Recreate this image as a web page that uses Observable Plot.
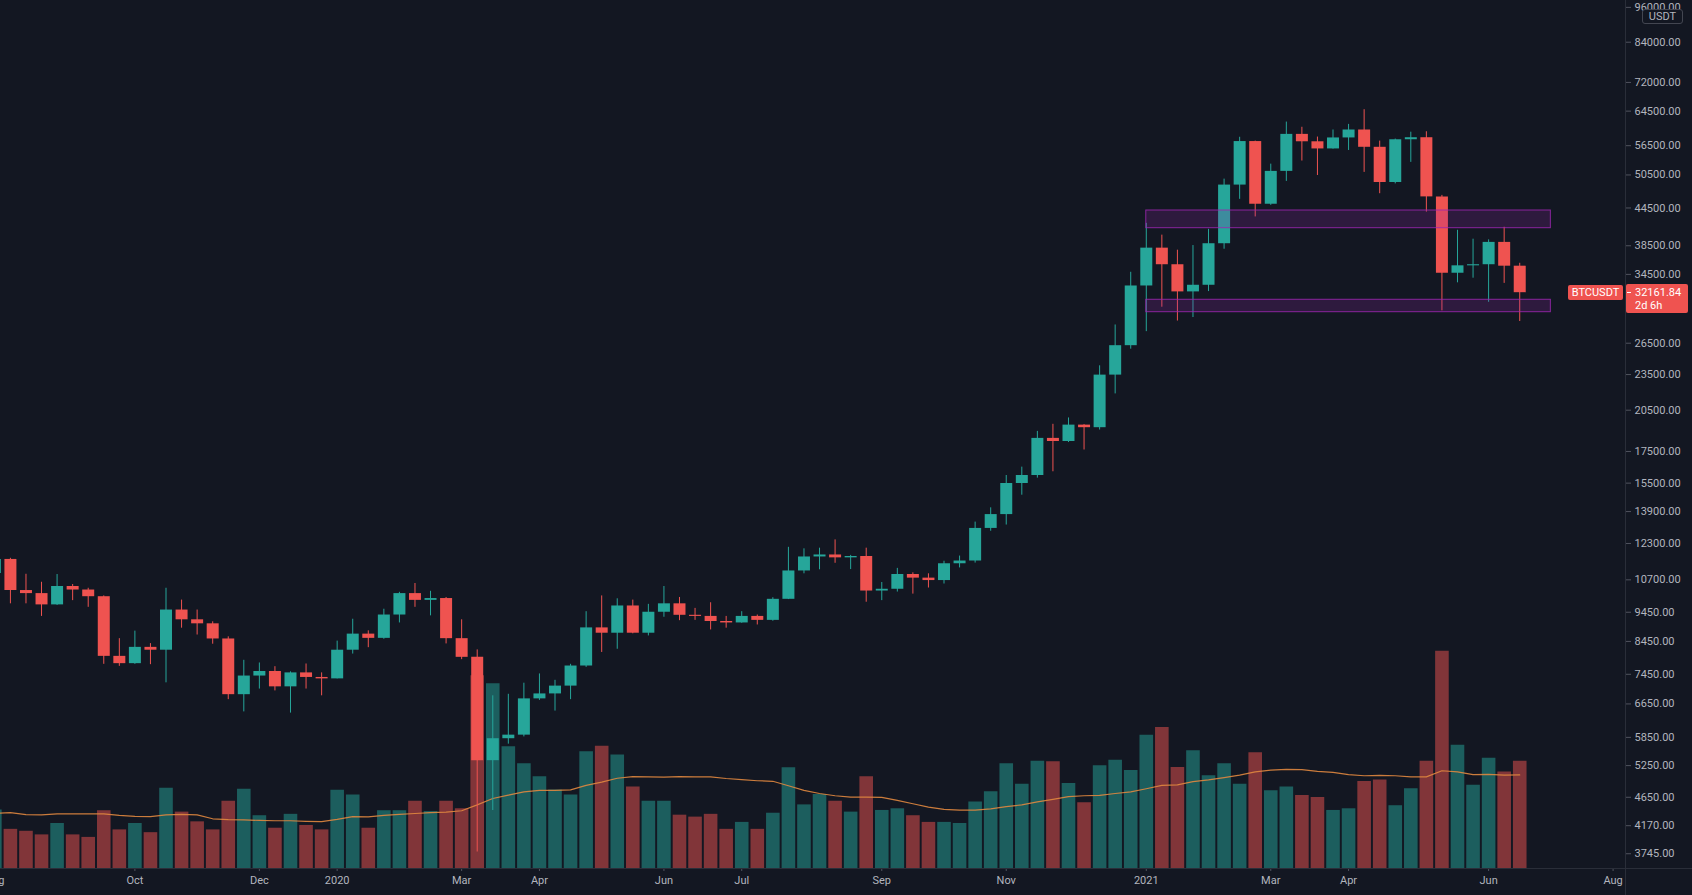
<!DOCTYPE html>
<html>
<head>
<meta charset="utf-8">
<script src="https://cdn.jsdelivr.net/npm/d3@7"></script>
<script src="https://cdn.jsdelivr.net/npm/@observablehq/plot@0.6"></script>
<style>
  html, body { margin: 0; padding: 0; background: #131722; overflow: hidden; }
  #chart { position: relative; width: 1692px; height: 895px; background: #131722; }
  #chart svg { position: absolute; left: 0; top: 0; }
  .ov { position: absolute; box-sizing: border-box; font-family: Roboto, "Noto Sans", sans-serif; font-size: 11px; }
</style>
</head>
<body>
<div id="chart"></div>
<script>
// ---------- DATA (weekly BTCUSDT, Aug 5 2019 .. Jun 21 2021) ----------
const firstWeek = new Date(Date.UTC(2019, 7, 5));
const lastWeekEnd = new Date(Date.UTC(2021, 5, 22));

const open = [10960,11570,10270,10150,9720,10430,10290,10030,7980,
 7760,8260,8170,9530,9180,9040,8530,6890,7400,7530,
 7100,7490,7360,7320,8170,8690,8550,9350,10150,9890,
 9960,8540,7950,5350,5820,5900,6780,6910,7120,7690,
 8900,8720,9680,8720,9450,9760,9340,9300,9120,9070,
 9300,9160,9930,11070,11680,11770,11640,11700,10250,10320,
 10920,10770,10670,11380,11500,13030,13740,15480,15960,18400,
 18180,19360,19170,23450,26250,33000,38150,35800,32260,33090,
 38800,48580,57400,45140,51200,59000,57350,55800,58200,60000,
 56150,49060,57800,58250,46430,34650,35650,35800,39000,35600];

const high = [12320,11620,10930,10600,10920,10510,10360,10060,8540,
 8790,8380,10360,9900,9530,9110,8600,7860,7780,7670,
 7520,7750,7490,8460,9200,8800,9560,10200,10550,10240,
 10000,9180,8180,6860,6900,7200,7460,7280,7740,9470,
 10060,9950,9900,9740,10430,10000,9590,9800,9300,9470,
 9350,9990,12120,12050,12080,12470,11750,12080,10590,11180,
 10990,10950,11490,11720,13350,14100,15960,16480,18900,19420,
 19900,19400,24300,28420,34780,41950,40100,37850,38530,41000,
 49700,58350,57500,52640,61850,60630,58400,60000,61300,64850,
 57500,57950,59500,59600,46700,40850,39480,39380,41330,36000];

const low = [10950,9760,9760,9300,9700,9880,9630,7740,7680,
 7740,7730,7210,8890,8660,8360,6760,6450,7040,6990,
 6420,7040,6860,7320,8050,8250,8520,9070,9630,9320,
 8370,7880,3770,4420,5700,5860,6740,6470,6760,7650,
 8100,8200,8700,8630,9270,9150,9160,8830,8890,9060,
 9000,9130,9920,10950,11120,11400,11130,9820,9880,10210,
 10130,10370,10530,11200,11410,12890,13200,14800,15800,16190,
 18110,17600,19000,21820,25900,27700,30420,28850,29240,32300,
 37990,46000,43000,44950,49270,53270,50400,55750,55470,51000,
 47000,48800,53000,43800,30000,33400,34000,31000,33330,28800];

const close = [11570,10270,10150,9720,10430,10290,10030,7980,7760,
 8260,8170,9530,9180,9040,8530,6890,7400,7530,7100,
 7490,7360,7320,8170,8690,8550,9350,10150,9890,9960,
 8540,7950,5350,5820,5900,6780,6910,7120,7690,8900,
 8720,9680,8720,9450,9760,9340,9300,9120,9070,9300,
 9160,9930,11070,11680,11770,11640,11700,10250,10320,10920,
 10770,10670,11380,11500,13030,13740,15480,15960,18400,18180,
 19360,19170,23450,26250,33000,38150,35800,32260,33090,38800,
 48580,57400,45140,51200,59000,57350,55800,58200,60000,56150,
 49060,57800,58250,46430,34650,35650,35800,39000,35600,32161.84];

// weekly volume, thousand BTC
const volume = [211,141,134,121,162,121,112,208,139,
 162,129,289,203,168,139,242,285,190,145,
 195,155,139,282,265,145,208,208,242,205,
 242,215,694,665,438,377,330,283,265,420,
 440,409,293,242,242,192,185,195,141,166,
 141,199,363,229,266,242,203,330,209,215,
 190,166,166,162,239,276,377,303,386,384,
 306,237,370,390,353,480,508,364,424,334,
 377,303,417,280,293,263,256,209,215,313,
 319,226,287,386,782,444,300,397,347,386];

// volume moving average as drawn (thousand BTC)
const volumeMA = [199,201,194,193,197,197,197,197,191,
 188,187,193,195,193,179,176,175,173,172,
 172,170,169,177,187,186,191,195,198,201,
 203,208,229,252,264,276,281,281,283,299,
 311,325,331,330,329,331,330,330,324,320,
 316,314,298,281,270,262,257,257,256,245,
 233,221,213,210,210,215,223,229,240,249,
 259,262,263,270,276,287,299,301,313,319,
 327,336,348,354,357,356,350,346,338,334,
 335,334,330,330,352,348,338,339,336,337];

// support / resistance zones
const zoneStart = ["2021-01-04", "2021-01-04"];
const zoneEnd   = ["2021-07-05", "2021-07-05"];
const zoneLow   = [41180, 29845];
const zoneHigh  = [44070, 31300];

// axis ticks
const priceTicks = [96000,84000,72000,64500,56500,50500,44500,38500,34500,26500,23500,20500,
  17500,15500,13900,12300,10700,9450,8450,7450,6650,5850,5250,4650,4170,3745];
const timeTickDates = ["2019-08-05","2019-10-07","2019-12-02","2020-01-06","2020-03-02","2020-04-06",
  "2020-06-01","2020-07-06","2020-09-07","2020-11-02","2021-01-04","2021-03-01","2021-04-05",
  "2021-06-07","2021-08-02"];
const timeTickLabels = ["Aug","Oct","Dec","2020","Mar","Apr","Jun","Jul","Sep","Nov","2021","Mar","Apr","Jun","Aug"];

const symbol = "BTCUSDT";
const currency = "USDT";
const countdown = "2d 6h";

// ---------- BUILD ----------
const weeks = d3.utcMonday.range(firstWeek, lastWeekEnd);
const rows = weeks.map((date, i) => ({
  date, open: open[i], high: high[i], low: low[i], close: close[i],
  volume: volume[i], ma: volumeMA[i], up: close[i] >= open[i]
}));
const zones = zoneStart.map((s, i) => ({
  start: new Date(s), end: new Date(zoneEnd[i]), lo: zoneLow[i], hi: zoneHigh[i]
}));
const tickDates = timeTickDates.map(s => new Date(s));
const tickLabel = new Map(tickDates.map((d, i) => [+d, timeTickLabels[i]]));

const UP = "#26a69a", DOWN = "#ef5350";
const VUP = "rgba(38,166,154,0.5)", VDOWN = "rgba(239,83,80,0.5)";

const W = 1692, H = 895;
const xDomain = [new Date("2019-08-07T13:00Z"), new Date("2021-08-07T14:00Z")];
const common = {
  width: W, height: H, marginTop: 0, marginRight: 67, marginBottom: 27, marginLeft: 0,
  style: { background: "transparent", color: "#b2b5be", fontFamily: "Roboto, 'Noto Sans', sans-serif", fontSize: "11px", overflow: "visible" }
};

const volPlot = Plot.plot({
  ...common,
  x: { type: "utc", domain: xDomain, axis: null, label: null },
  y: { domain: [0, 3125], axis: null, label: null },
  color: { type: "identity" },
  marks: [
    Plot.ruleX(rows, { x: "date", y1: 0, y2: "volume", stroke: d => d.up ? VUP : VDOWN, strokeWidth: 13.6 }),
    Plot.line(rows, { x: "date", y: "ma", stroke: "#e0873f", strokeWidth: 1.2, strokeOpacity: 0.9 })
  ]
});

const pricePlot = Plot.plot({
  ...common,
  x: { type: "utc", domain: xDomain, label: null },
  y: { type: "log", domain: [3539, 98560], label: null },
  color: { type: "identity" },
  marks: [
    Plot.ruleX(rows, { x: "date", y1: "low", y2: "high", stroke: d => d.up ? UP : DOWN, strokeWidth: 1 }),
    Plot.ruleX(rows, { x: "date", y1: "open", y2: "close", stroke: d => d.up ? UP : DOWN, strokeWidth: 12 }),
    Plot.rect(zones, { x1: "start", x2: "end", y1: "lo", y2: "hi", fill: "#9c27b0", fillOpacity: 0.2, stroke: "#9c27b0", strokeOpacity: 0.85 }),
    Plot.axisY(priceTicks, { anchor: "right", tickSize: 5, tickPadding: 4, tickFormat: d => d.toFixed(2), stroke: "#50535e", fill: "#b2b5be" }),
    Plot.axisX(tickDates, { anchor: "bottom", tickSize: 3, tickPadding: 5, tickFormat: d => tickLabel.get(+d), stroke: "#50535e", fill: "#b2b5be" })
  ]
});

const chart = document.getElementById("chart");
chart.appendChild(volPlot);
chart.appendChild(pricePlot);

// frame lines
function div(css, html) {
  const e = document.createElement("div");
  e.className = "ov";
  e.style.cssText = css;
  if (html != null) e.innerHTML = html;
  chart.appendChild(e);
  return e;
}
div("left:1625px;top:0;width:1px;height:895px;background:#2a2e39;");
div("left:0;top:868px;width:1692px;height:1px;background:#2a2e39;");

// last price labels
const lastClose = close[close.length - 1];
const yc = pricePlot.scale("y").apply(lastClose);
div(`left:1568px;top:${yc - 7.5}px;width:55px;height:15px;background:${DOWN};color:#fff;border-radius:2px;text-align:center;line-height:15px;`, symbol);
div(`left:1626px;top:${yc - 8.5}px;width:62px;height:29px;background:${DOWN};color:#fff;border-radius:2px;padding-left:9px;line-height:13px;padding-top:2px;`,
    d3.format(".2f")(lastClose) + "<br>" + countdown);
div(`left:1627px;top:${yc - 0.5}px;width:4px;height:1px;background:#fff;`);

// currency box
div("left:1642px;top:9px;width:41px;height:15px;border:1px solid #434651;border-radius:3px;background:#131722;color:#b2b5be;text-align:center;line-height:13px;", currency);
</script>
</body>
</html>
